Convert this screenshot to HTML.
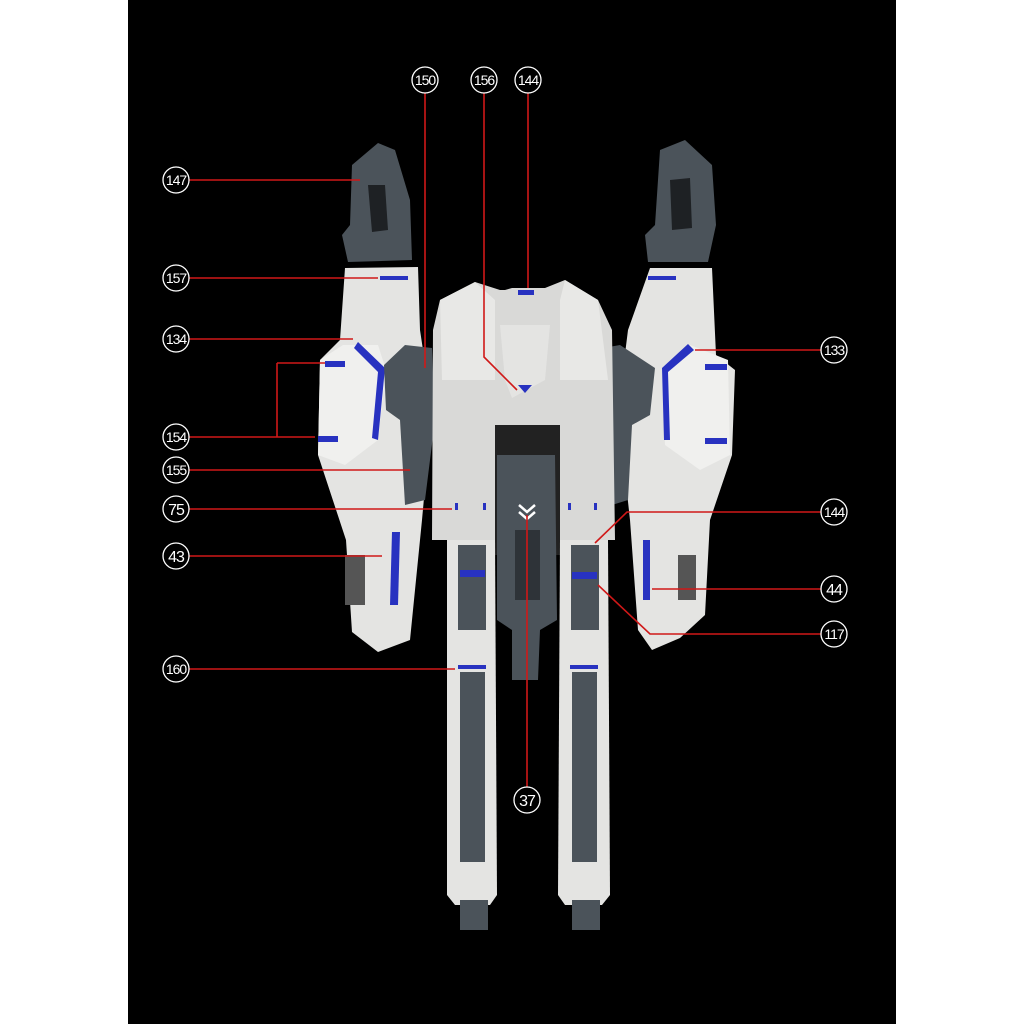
<!DOCTYPE html>
<html><head><style>html,body{margin:0;padding:0;background:#fff}svg{display:block}</style></head><body>
<svg width="1024" height="1024" viewBox="0 0 1024 1024" xmlns="http://www.w3.org/2000/svg">
<rect x="0" y="0" width="1024" height="1024" fill="#fff"/>
<rect x="128" y="0" width="768" height="1024" fill="#000"/>
<path d="M352,165 L378,143 L395,150 L410,200 L412,260 L348,262 L342,235 L350,225 Z" fill="#4b535a"/>
<path d="M368,185 L385,185 L388,230 L372,232 Z" fill="#000" opacity="0.6"/>
<path d="M660,150 L685,140 L712,165 L716,225 L708,262 L648,262 L645,235 L655,225 Z" fill="#4b535a"/>
<path d="M670,180 L690,178 L692,228 L672,230 Z" fill="#000" opacity="0.6"/>
<path d="M345,268 L418,267 L420,330 L432,410 L422,520 L410,640 L378,652 L352,632 L346,540 L318,455 L320,360 L340,340 Z" fill="#e4e4e2"/>
<path d="M343,345 L378,345 L386,370 L378,440 L345,465 L318,455 L320,360 Z" fill="#f0f0ee"/>
<path d="M358,342 L385,368 L378,440 L372,438 L378,372 L354,348 Z" fill="#2832c0"/>
<rect x="325" y="361" width="20" height="6" fill="#2832c0"/>
<rect x="318" y="436" width="20" height="6" fill="#2832c0"/>
<rect x="380" y="276" width="28" height="4" fill="#2832c0"/>
<path d="M392,532 L400,532 L398,605 L390,605 Z" fill="#2832c0"/>
<rect x="345" y="555" width="20" height="50" fill="#555"/>
<path d="M650,268 L712,268 L716,355 L735,370 L732,455 L710,520 L705,615 L680,638 L652,650 L638,630 L630,520 L618,410 L628,330 Z" fill="#e4e4e2"/>
<path d="M690,345 L728,360 L730,455 L700,470 L665,445 L662,370 Z" fill="#f0f0ee"/>
<path d="M688,344 L694,350 L668,372 L670,440 L664,440 L662,368 Z" fill="#2832c0"/>
<rect x="705" y="364" width="22" height="6" fill="#2832c0"/>
<rect x="705" y="438" width="22" height="6" fill="#2832c0"/>
<rect x="648" y="276" width="28" height="4" fill="#2832c0"/>
<path d="M643,540 L650,540 L650,600 L643,600 Z" fill="#2832c0"/>
<rect x="678" y="555" width="18" height="45" fill="#555"/>
<path d="M384,365 L405,345 L432,348 L435,420 L425,500 L405,505 L400,420 L386,410 Z" fill="#4b535a"/>
<path d="M592,350 L620,345 L655,368 L650,415 L632,425 L628,500 L612,505 L600,420 L592,415 Z" fill="#4b535a"/>
<path d="M440,300 L475,282 L500,290 L505,290 L512,288 L545,288 L565,280 L598,300 L612,330 L615,540 L432,540 L433,330 Z" fill="#d9d9d7"/>
<path d="M440,300 L475,282 L495,300 L495,380 L442,380 Z" fill="#e8e8e6"/>
<path d="M565,280 L598,300 L608,380 L560,380 L560,300 Z" fill="#e8e8e6"/>
<path d="M500,325 L550,325 L545,380 L512,398 L505,380 Z" fill="#e4e4e2"/>
<path d="M518,385 L532,385 L525,393 Z" fill="#2832c0"/>
<rect x="518" y="290" width="16" height="5" fill="#2832c0"/>
<rect x="495" y="425" width="65" height="130" fill="#222"/>
<rect x="455" y="503" width="3" height="7" fill="#2832c0"/><rect x="483" y="503" width="3" height="7" fill="#2832c0"/>
<rect x="568" y="503" width="3" height="7" fill="#2832c0"/><rect x="594" y="503" width="3" height="7" fill="#2832c0"/>
<path d="M497,455 L555,455 L557,620 L540,630 L538,680 L512,680 L512,630 L497,620 Z" fill="#4b535a"/>
<rect x="515" y="530" width="25" height="70" fill="#2e3338"/>
<path d="M519,505 L527,512 L535,505 M519,512 L527,519 L535,512" stroke="#fff" stroke-width="2.5" fill="none"/>
<path d="M447,540 L495,540 L497,895 L490,905 L455,905 L447,895 Z" fill="#e4e4e2"/>
<rect x="458" y="545" width="28" height="85" fill="#4b535a"/>
<rect x="460" y="570" width="25" height="7" fill="#2832c0"/>
<rect x="460" y="672" width="25" height="190" fill="#4b535a"/>
<rect x="458" y="665" width="28" height="4" fill="#2832c0"/>
<rect x="460" y="900" width="28" height="30" fill="#4b535a"/>
<path d="M560,540 L608,540 L610,895 L602,905 L565,905 L558,895 Z" fill="#e4e4e2"/>
<rect x="571" y="545" width="28" height="85" fill="#4b535a"/>
<rect x="572" y="572" width="25" height="7" fill="#2832c0"/>
<rect x="572" y="672" width="25" height="190" fill="#4b535a"/>
<rect x="570" y="665" width="28" height="4" fill="#2832c0"/>
<rect x="572" y="900" width="28" height="30" fill="#4b535a"/>
<g stroke="#d01818" stroke-width="1.6" fill="none">
<path d="M189,180 L360,180"/>
<path d="M189,278 L378,278"/>
<path d="M189,339 L353,339"/>
<path d="M189,437 L277,437 M277,363 L277,437 M277,363 L325,363 M277,437 L315,437"/>
<path d="M189,470 L410,470"/>
<path d="M189,509 L452,509"/>
<path d="M189,556 L382,556"/>
<path d="M189,669 L455,669"/>
<path d="M425,93 L425,368"/>
<path d="M484,93 L484,357 L517,390"/>
<path d="M528,93 L528,288"/>
<path d="M821,350 L695,350"/>
<path d="M821,512 L627,512 L595,543"/>
<path d="M821,589 L652,589"/>
<path d="M821,634 L650,634 L598,585"/>
<path d="M527,787 L527,515"/>
</g>
<g fill="#000" stroke="#fff" stroke-width="1.3">
<circle cx="176" cy="180" r="13"/><circle cx="176" cy="278" r="13"/><circle cx="176" cy="339" r="13"/>
<circle cx="176" cy="437" r="13"/><circle cx="176" cy="470" r="13"/><circle cx="176" cy="509" r="13"/>
<circle cx="176" cy="556" r="13"/><circle cx="176" cy="669" r="13"/>
<circle cx="425" cy="80" r="13"/><circle cx="484" cy="80" r="13"/><circle cx="528" cy="80" r="13"/>
<circle cx="834" cy="350" r="13"/><circle cx="834" cy="512" r="13"/><circle cx="834" cy="589" r="13"/>
<circle cx="834" cy="634" r="13"/><circle cx="527" cy="800" r="13"/>
</g>
<g fill="#fff" font-family="Liberation Sans, sans-serif" font-size="14" text-anchor="middle" letter-spacing="-1">
<text x="176" y="185">147</text><text x="176" y="283">157</text><text x="176" y="344">134</text>
<text x="176" y="442">154</text><text x="176" y="475">155</text><text x="176" y="515" font-size="16">75</text>
<text x="176" y="562" font-size="16">43</text><text x="176" y="674">160</text>
<text x="425" y="85">150</text><text x="484" y="85">156</text><text x="528" y="85">144</text>
<text x="834" y="355">133</text><text x="834" y="517">144</text><text x="834" y="595" font-size="16">44</text>
<text x="834" y="639">117</text><text x="527" y="806" font-size="16">37</text>
</g>
</svg>
</body></html>
